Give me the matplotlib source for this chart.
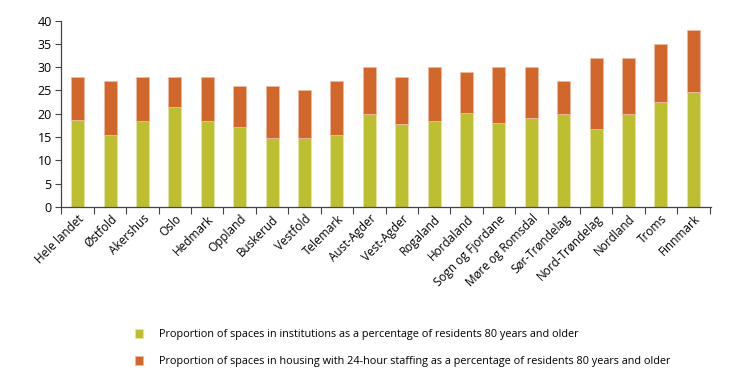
import matplotlib
matplotlib.use("Agg")
import matplotlib.pyplot as plt
import numpy as np

counties = ["Hele landet", "Østfold", "Akershus", "Oslo", "Hedmark", "Oppland",
            "Buskerud", "Vestfold", "Telemark", "Aust-Agder", "Vest-Agder",
            "Rogaland", "Hordaland", "Sogn og Fjordane", "Møre og Romsdal",
            "Sør-Trøndelag", "Nord-Trøndelag", "Nordland", "Troms", "Finnmark"]
# institutions (%), and total incl. 24-hour staffed housing (%)
institutions = [18.6, 15.4, 18.4, 21.5, 18.4, 17.2, 14.9, 14.9, 15.4, 20.0,
                17.7, 18.4, 20.1, 18.0, 19.2, 19.9, 16.7, 19.9, 22.5, 24.7]
total = [28, 27, 28, 28, 28, 26, 26, 25, 27, 30,
         28, 30, 29, 30, 30, 27, 32, 32, 35, 38]
housing = [t - i for t, i in zip(total, institutions)]

GREEN = "#bdbe30"
ORANGE = "#d2672b"

plt.rcParams["font.family"] = ["Open Sans", "DejaVu Sans"]

fig = plt.figure(figsize=(7.3, 3.89), dpi=100)
ax = fig.add_axes([0.0842, 0.468, 0.89, 0.479])

x = np.arange(len(counties))
w = 0.4
b1 = ax.bar(x, institutions, w, color=GREEN, edgecolor="#e6e7a8", linewidth=0.6,
            label="Proportion of spaces in institutions as a percentage of residents 80 years and older")
b2 = ax.bar(x, housing, w, bottom=institutions, color=ORANGE, edgecolor="#eeb9a0", linewidth=0.6,
            label="Proportion of spaces in housing with 24-hour staffing as a percentage of residents 80 years and older")

ax.set_xlim(-0.5, len(counties) - 0.5 + 0.05)
ax.set_ylim(0, 40)
ax.set_yticks(range(0, 41, 5))
ax.tick_params(axis="y", labelsize=9, length=4, width=0.8, color="#444444", pad=3)
ax.set_xticks(x)
ax.set_xticklabels(counties, rotation=45, ha="right", rotation_mode="anchor", fontsize=8.5)
ax.tick_params(axis="x", length=0, pad=4)
# ticks between categories
ax.set_xticks(np.arange(-0.5, len(counties), 1.0), minor=True)
ax.tick_params(axis="x", which="minor", length=5, width=0.8, color="#444444")

for s in ("top", "right"):
    ax.spines[s].set_visible(False)
for s in ("left", "bottom"):
    ax.spines[s].set_color("#444444")
    ax.spines[s].set_linewidth(0.9)

fig.legend(handles=[b1, b2], loc="upper left", bbox_to_anchor=(0.179, 0.166),
           frameon=False, fontsize=7.8, handlelength=0.75, handleheight=0.9,
           handletextpad=1.45, labelspacing=1.47, borderaxespad=0)

fig.savefig("out.png", dpi=100)
